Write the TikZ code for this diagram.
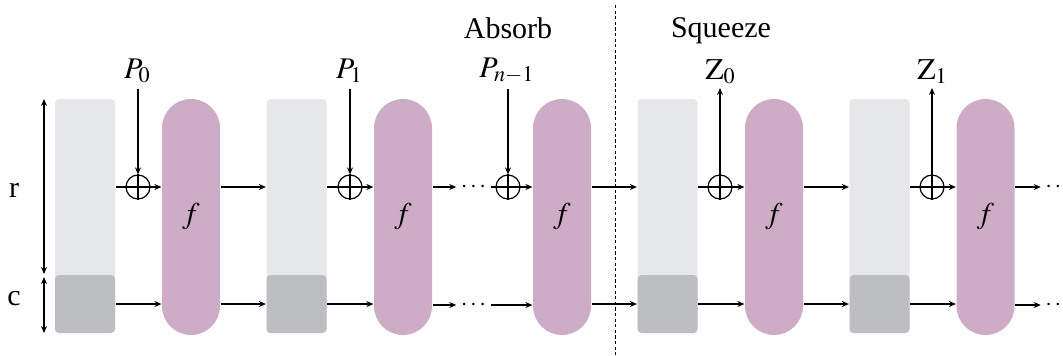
\documentclass[tikz,border=0pt]{standalone}
\usepackage{mathptmx}
\usepackage[no-math]{fontspec}
\setmainfont{Liberation Serif}
\usetikzlibrary{arrows.meta}
\definecolor{statelight}{HTML}{E6E7E9}
\definecolor{statedark}{HTML}{BCBEC1}
\definecolor{permcol}{HTML}{CEACC5}
\tikzset{
  rpart/.style={rectangle,fill=statelight,rounded corners=2pt,minimum width=30pt,minimum height=117pt,inner sep=0pt},
  cpart/.style={rectangle,fill=statedark,rounded corners=2pt,minimum width=30pt,minimum height=29pt,inner sep=0pt},
  perm/.style={rectangle,fill=permcol,rounded corners=14.5pt,minimum width=29pt,minimum height=118pt,inner sep=0pt},
  xorop/.style={circle,draw,minimum size=12pt,inner sep=0pt},
  lbl/.style={anchor=base,inner sep=0pt},
  dotsnode/.style={font=\fontsize{12}{14}\selectfont,inner ysep=0pt,inner xsep=2pt},
  divider/.style={line width=0.5pt,dash pattern=on 1.6pt off 1.2pt}
}
\begin{document}
\begin{tikzpicture}[x=0.5pt,y=-0.5pt,font=\fontsize{15}{18}\selectfont,
  >={Stealth[length=3.5pt,width=3pt]},line width=0.6pt]
\useasboundingbox (0,0) rectangle (1063,355);

% rate / capacity
\node[lbl] (rlab) at (14,197) {r};
\node[lbl] (clab) at (14,305) {c};
\coordinate (rtop) at (44,99);
\coordinate (rbot) at (44,274);
\coordinate (ctop) at (44,277);
\coordinate (cbot) at (44,333);
\draw[<->] (rtop) -- (rbot);
\draw[<->] (ctop) -- (cbot);

\node[lbl] (absorb) at (508,38) {Absorb};
\node[lbl] (squeeze) at (721,37) {Squeeze};
\draw[divider] (615,5) -- (615,355);

% states
\node[rpart] (s1r) at (85,216) {};
\node[cpart] (s1c) at (85,304) {};
\node[rpart] (s2r) at (296.5,216) {};
\node[cpart] (s2c) at (296.5,304) {};
\node[rpart] (s4r) at (667.5,216) {};
\node[cpart] (s4c) at (667.5,304) {};
\node[rpart] (s5r) at (879.5,216) {};
\node[cpart] (s5c) at (879.5,304) {};

% permutations
\node[perm] (f1) at (191,217) {$f$};
\node[perm] (f2) at (403,217) {$f$};
\node[perm] (f3) at (562,217) {$f$};
\node[perm] (f4) at (774,217) {$f$};
\node[perm] (f5) at (985.5,217) {$f$};

% xor
\node[xorop] (x1) at (138,187) {};
\node[xorop] (x2) at (350,187) {};
\node[xorop] (x3) at (508,187) {};
\node[xorop] (x4) at (720,187) {};
\node[xorop] (x5) at (932,187) {};
\draw (x1.north) -- (x1.south) (x1.west) -- (x1.east);
\draw (x2.north) -- (x2.south) (x2.west) -- (x2.east);
\draw (x3.north) -- (x3.south) (x3.west) -- (x3.east);
\draw (x4.north) -- (x4.south) (x4.west) -- (x4.east);
\draw (x5.north) -- (x5.south) (x5.west) -- (x5.east);

% blocks in / out
\node[lbl] (p0) at (137.5,78) {$P_0$};
\node[lbl] (p1) at (349.5,78) {$P_1$};
\node[lbl] (pn) at (507,77) {$P_{n-1}$};
\node[lbl] (z0) at (720.5,79) {$\mathrm{Z}_0$};
\node[lbl] (z1) at (932.5,79) {$\mathrm{Z}_1$};
\coordinate (p0s) at (138,89);
\coordinate (p1s) at (350,89);
\coordinate (pns) at (508,89);
\coordinate (z0s) at (720,88);
\coordinate (z1s) at (932,88);
\draw[->] (p0s) -- (x1.north);
\draw[->] (p1s) -- (x2.north);
\draw[->] (pns) -- (x3.north);
\draw[->] (x4.north) -- (z0s);
\draw[->] (x5.north) -- (z1s);

% dots
\node[dotsnode] (d1r) at (473.5,187) {$\cdots$};
\node[dotsnode] (d1c) at (473.5,305) {$\cdots$};
\node[dotsnode] (d2r) at (1058,187) {$\cdots$};
\node[dotsnode] (d2c) at (1058,305) {$\cdots$};

% stage 1
\draw (s1r.east |- x1) -- (x1.west);
\draw[->] (x1.east) -- (f1.west |- x1);
\draw[->] (s1c.east) -- (f1.west |- s1c);
\draw[->] (f1.east |- x1) -- (s2r.west |- x1);
\draw[->] (f1.east |- s1c) -- (s2c.west);
% stage 2
\draw (s2r.east |- x2) -- (x2.west);
\draw[->] (x2.east) -- (f2.west |- x2);
\draw[->] (s2c.east) -- (f2.west |- s2c);
\draw[->] (f2.east |- x2) -- (d1r.west);
\draw[->] (f2.east |- d1c) -- (d1c.west);
% stage n-1
\draw (d1r.east) -- (x3.west);
\draw[->] (x3.east) -- (f3.west |- x3);
\draw[->] (d1c.east) -- (f3.west |- d1c);
\draw[->] (f3.east |- x3) -- (s4r.west |- x3);
\draw[->] (f3.east |- s4c) -- (s4c.west);
% squeeze
\draw (s4r.east |- x4) -- (x4.west);
\draw[->] (x4.east) -- (f4.west |- x4);
\draw[->] (s4c.east) -- (f4.west |- s4c);
\draw[->] (f4.east |- x4) -- (s5r.west |- x4);
\draw[->] (f4.east |- s4c) -- (s5c.west);
\draw (s5r.east |- x5) -- (x5.west);
\draw[->] (x5.east) -- (f5.west |- x5);
\draw[->] (s5c.east) -- (f5.west |- s5c);
\draw[->] (f5.east |- x5) -- (d2r.west);
\draw[->] (f5.east |- d2c) -- (d2c.west);
\end{tikzpicture}
\end{document}
